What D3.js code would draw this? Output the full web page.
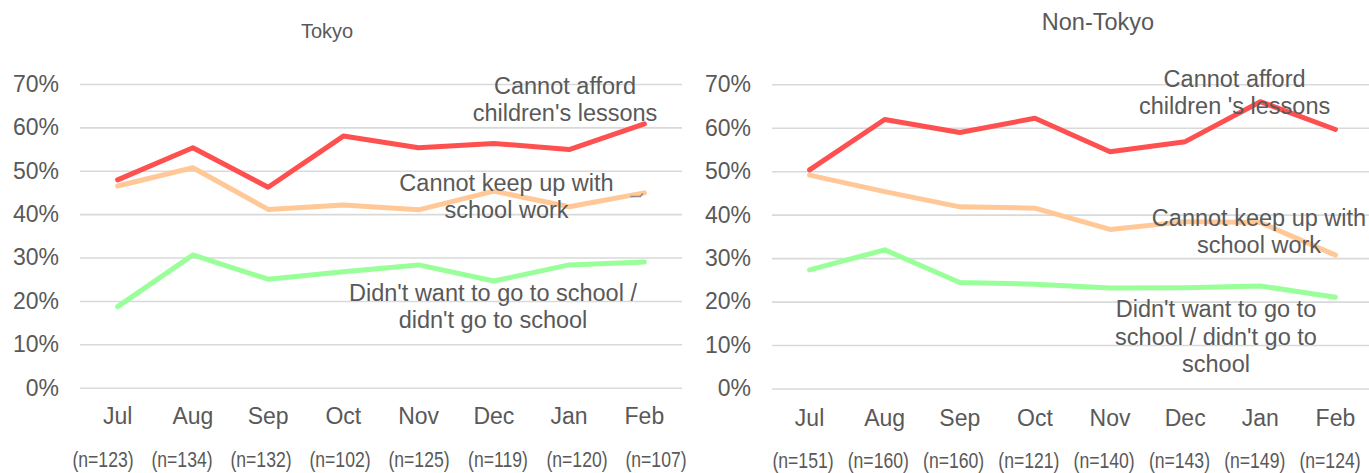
<!DOCTYPE html>
<html>
<head>
<meta charset="utf-8">
<script src="https://cdn.jsdelivr.net/npm/d3@7"></script>
<style>
  html, body { margin: 0; padding: 0; background: #ffffff; }
  svg { display: block; font-family: "Liberation Sans", Arial, sans-serif; }
</style>
</head>
<body>
<svg id="chart" width="1369" height="473"></svg>
<script>
// Survey months and sample sizes
const months = ["Jul", "Aug", "Sep", "Oct", "Nov", "Dec", "Jan", "Feb"];
const tokyoSamples = ["(n=123)", "(n=134)", "(n=132)", "(n=102)", "(n=125)", "(n=119)", "(n=120)", "(n=107)"];
const nonTokyoSamples = ["(n=151)", "(n=160)", "(n=160)", "(n=121)", "(n=140)", "(n=143)", "(n=149)", "(n=124)"];

// Share of respondents (%) — Tokyo
const tokyoLessons = [47.9, 55.3, 46.2, 58.0, 55.3, 56.3, 54.9, 60.8];
const tokyoSchoolWork = [46.5, 50.7, 41.1, 42.1, 41.0, 45.3, 41.7, 44.9];
const tokyoAttendance = [18.7, 30.6, 25.0, 26.7, 28.3, 24.6, 28.3, 29.0];

// Share of respondents (%) — outside Tokyo
const nonTokyoLessons = [50.3, 61.9, 58.9, 62.2, 54.5, 56.8, 66.0, 59.6];
const nonTokyoSchoolWork = [49.1, 45.3, 41.8, 41.5, 36.6, 38.4, 38.2, 30.7];
const nonTokyoAttendance = [27.3, 31.9, 24.4, 24.0, 23.1, 23.2, 23.6, 21.0];

const yTicks = [0, 10, 20, 30, 40, 50, 60, 70];

// Series labels
const tokyoLessonsLabel = ["Cannot afford", "children's lessons"];
const tokyoSchoolWorkLabel = ["Cannot keep up with", "school work"];
const tokyoAttendanceLabel = ["Didn't want to go to school /", "didn't go to school"];
const nonTokyoLessonsLabel = ["Cannot afford", "children 's lessons"];
const nonTokyoSchoolWorkLabel = ["Cannot keep up with", "school work"];
const nonTokyoAttendanceLabel = ["Didn't want to go to", "school / didn't go to", "school"];

const COLORS = { lessons: "#ff5050", schoolWork: "#ffc896", attendance: "#99ff99" };
const TEXT = "#595959";
const GRID = "#d9d9d9";

const svg = d3.select("#chart");

function drawPanel(p) {
  const g = svg.append("g");

  const x = d3.scaleBand().domain(months).range([p.left, p.right]);
  const y = d3.scaleLinear().domain([0, 70]).range([p.bottom, p.top]);
  const cx = m => x(m) + x.bandwidth() / 2;

  // title
  g.append("text")
    .attr("x", p.titleX).attr("y", p.titleY)
    .attr("text-anchor", "middle")
    .attr("fill", TEXT)
    .style("font-size", p.titleSize + "px")
    .text(p.title);

  // gridlines + percentage labels
  const yAxis = d3.axisLeft(y)
    .tickValues(yTicks)
    .tickSize(-(p.gridRight - p.left))
    .tickPadding(21)
    .tickFormat(d => d + "%");
  const ya = g.append("g").attr("transform", `translate(${p.left},0)`).call(yAxis);
  ya.select(".domain").remove();
  ya.selectAll(".tick line").attr("stroke", GRID).attr("stroke-width", 1.6);
  ya.selectAll(".tick text")
    .attr("fill", TEXT)
    .style("font-size", "23px")
    .style("font-family", "Liberation Sans, Arial, sans-serif");

  // month labels
  g.selectAll(".month").data(months).join("text")
    .attr("class", "month")
    .attr("x", d => cx(d))
    .attr("y", p.monthY)
    .attr("text-anchor", "middle")
    .attr("fill", TEXT)
    .style("font-size", "23px")
    .text(d => d);

  // sample size labels, set slightly condensed
  const nx = d3.scalePoint().domain(months).range(p.sampleRange);
  g.selectAll(".sample").data(p.samples.map((s, i) => ({ m: months[i], s }))).join("text")
    .attr("class", "sample")
    .attr("transform", d => `translate(${nx(d.m)},${p.sampleY}) scale(0.8,1)`)
    .attr("text-anchor", "middle")
    .attr("fill", TEXT)
    .style("font-size", "22px")
    .text(d => d.s);

  // series lines
  const line = d3.line().x(d => cx(d.m)).y(d => y(d.v));
  p.series.forEach(s => {
    const pts = s.values.map((v, i) => ({ m: months[i], v }));
    g.append("path")
      .datum(pts)
      .attr("d", line)
      .attr("fill", "none")
      .attr("stroke", s.color)
      .attr("stroke-width", 5)
      .attr("stroke-linejoin", "round")
      .attr("stroke-linecap", "round");
  });

  // small leader tick on the last point of a series
  if (p.leader) {
    const s = p.series[p.leader.series];
    const px = cx(months[months.length - 1]);
    const py = y(s.values[s.values.length - 1]);
    g.append("path")
      .attr("d", `M${px - 14},${py + 3.5}H${px - 4}L${px - 1.5},${py + 0.5}`)
      .attr("fill", "none")
      .attr("stroke", "#8c8c8c")
      .attr("stroke-width", 1.5);
  }

  // series labels
  p.labels.forEach(l => {
    g.append("text")
      .attr("text-anchor", "middle")
      .attr("fill", TEXT)
      .style("font-size", "23.5px")
      .selectAll("tspan").data(l.lines).join("tspan")
      .attr("x", l.x)
      .attr("y", (d, i) => l.y + i * l.lh)
      .text(d => d);
  });
}

drawPanel({
  title: "Tokyo", titleX: 327, titleY: 38, titleSize: 20,
  left: 80, right: 682, gridRight: 682, top: 84, bottom: 387.7,
  monthY: 424, sampleY: 467, sampleRange: [103, 656], samples: tokyoSamples,
  series: [
    { values: tokyoSchoolWork, color: COLORS.schoolWork },
    { values: tokyoAttendance, color: COLORS.attendance },
    { values: tokyoLessons, color: COLORS.lessons }
  ],
  leader: { series: 0 },
  labels: [
    { lines: tokyoLessonsLabel, x: 565, y: 93.5, lh: 27.5 },
    { lines: tokyoSchoolWorkLabel, x: 506.5, y: 191, lh: 27 },
    { lines: tokyoAttendanceLabel, x: 493, y: 300.7, lh: 27.6 }
  ]
});

drawPanel({
  title: "Non-Tokyo", titleX: 1098, titleY: 30, titleSize: 23.5,
  left: 772, right: 1373, gridRight: 1369, top: 84.3, bottom: 388.5,
  monthY: 426, sampleY: 467.5, sampleRange: [803, 1330], samples: nonTokyoSamples,
  series: [
    { values: nonTokyoSchoolWork, color: COLORS.schoolWork },
    { values: nonTokyoAttendance, color: COLORS.attendance },
    { values: nonTokyoLessons, color: COLORS.lessons }
  ],
  labels: [
    { lines: nonTokyoLessonsLabel, x: 1234.6, y: 86.7, lh: 27.6 },
    { lines: nonTokyoSchoolWorkLabel, x: 1259, y: 225.7, lh: 27 },
    { lines: nonTokyoAttendanceLabel, x: 1216, y: 317.3, lh: 27.2 }
  ]
});
</script>
</body>
</html>
